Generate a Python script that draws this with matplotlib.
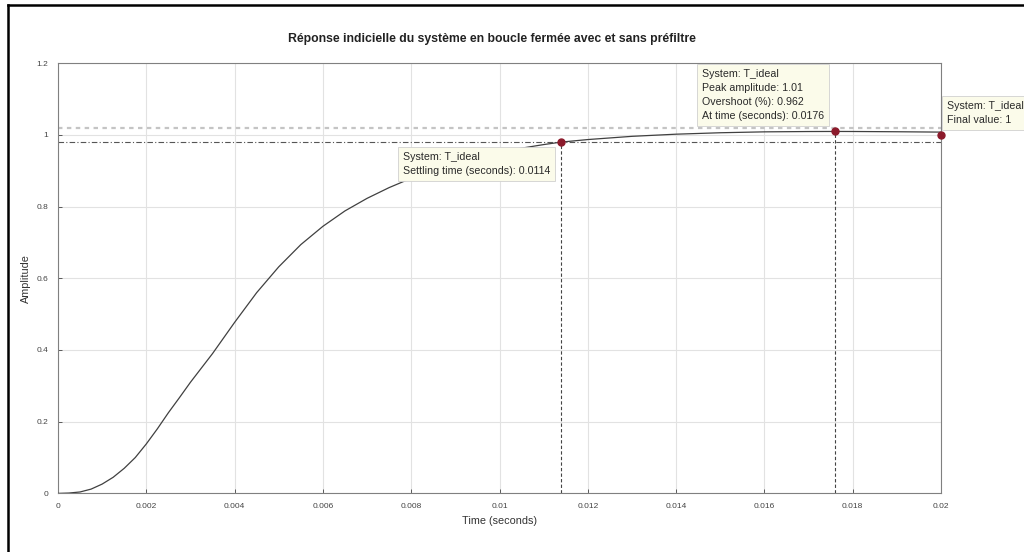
import numpy as np
import matplotlib
matplotlib.use('Agg')
import matplotlib.pyplot as plt
from matplotlib.lines import Line2D

plt.rcParams['font.family'] = ['Liberation Sans', 'DejaVu Sans']

# Step response
t_s = [0, 0.00025, 0.0005, 0.00075, 0.001, 0.00125, 0.0015, 0.00175, 0.002, 0.00225,
       0.0025, 0.00275, 0.003, 0.0035, 0.004, 0.0045, 0.005, 0.0055, 0.006, 0.0065,
       0.007, 0.0075, 0.008, 0.0085, 0.009, 0.0095, 0.01, 0.0105, 0.011, 0.0114,
       0.012, 0.013, 0.014, 0.015, 0.016, 0.017, 0.0176, 0.018, 0.019, 0.02]
amplitude = [0, 0.001, 0.004, 0.012, 0.026, 0.045, 0.07, 0.1, 0.138, 0.18,
             0.225, 0.267, 0.31, 0.39, 0.477, 0.56, 0.632, 0.694, 0.745, 0.788,
             0.823, 0.853, 0.879, 0.902, 0.922, 0.938, 0.952, 0.963, 0.973, 0.98,
             0.987, 0.996, 1.002, 1.006, 1.0085, 1.0094, 1.0096, 1.0095, 1.0088, 1.0078]

settle_band = [0.98, 1.02]
settling_time = 0.0114
peak_time = 0.0176
peak_amp = 1.0096
final_time = 0.02
final_value = 1.0

x_ticks = [0, 0.002, 0.004, 0.006, 0.008, 0.01, 0.012, 0.014, 0.016, 0.018, 0.02]
x_labels = ['0', '0.002', '0.004', '0.006', '0.008', '0.01', '0.012', '0.014', '0.016', '0.018', '0.02']
y_ticks = [0, 0.2, 0.4, 0.6, 0.8, 1.0, 1.2]
y_labels = ['0', '0.2', '0.4', '0.6', '0.8', '1', '1.2']

tip_settle = 'System: T_ideal\nSettling time (seconds): 0.0114'
tip_peak = 'System: T_ideal\nPeak amplitude: 1.01\nOvershoot (%): 0.962\nAt time (seconds): 0.0176'
tip_final = 'System: T_ideal\nFinal value: 1'

fig = plt.figure(figsize=(10.24, 5.52), dpi=100)
ax = fig.add_axes([58/1024, 1 - 493.4/552, (941-58)/1024, (493.4-63.2)/552])

ax.grid(True, color='#e2e2e2', linewidth=0.8)
ax.set_axisbelow(True)

# settling band
ax.axhline(settle_band[0], color='#555555', linestyle=(0, (5, 2, 1, 2)), linewidth=0.8, zorder=2)
ax.axhline(settle_band[1], color='#c4c4c4', linestyle=(0, (2, 2)), linewidth=1.6, zorder=2)

ax.plot(t_s, amplitude, color='#404040', linewidth=0.9, zorder=3)

# characteristic markers + drop lines
ax.plot([settling_time, settling_time], [0, settle_band[0]], color='#444444',
        linestyle=(0, (3, 2)), linewidth=0.8, zorder=2)
ax.plot([peak_time, peak_time], [0, peak_amp], color='#444444',
        linestyle=(0, (3, 2)), linewidth=0.8, zorder=2)
ax.plot([settling_time, peak_time, final_time], [settle_band[0], peak_amp, final_value],
        'o', color='#8c1a2b', markersize=5, zorder=6, clip_on=False)

box = dict(boxstyle='square,pad=0.45', facecolor='#fbfbea', edgecolor='#d0d0d0', linewidth=0.6)
tip_kw = dict(fontsize=7.7, va='top', ha='left', linespacing=1.5, bbox=box,
              zorder=5, color='#2a2a2a', clip_on=False)
ax.text(0.00781, 0.952, tip_settle, **tip_kw)
ax.text(0.01459, 1.184, tip_peak, **tip_kw)
ax.text(0.02014, 1.095, tip_final, **tip_kw)

ax.set_xlim(0, 0.02)
ax.set_ylim(0, 1.2)
ax.set_xticks(x_ticks)
ax.set_xticklabels(x_labels)
ax.set_yticks(y_ticks)
ax.set_yticklabels(y_labels)
ax.tick_params(direction='in', length=3, width=0.6, labelsize=6, colors='#444444',
               top=False, right=False, pad=7)
for s in ax.spines.values():
    s.set_color('#808080')
    s.set_linewidth(0.8)

ax.set_xlabel('Time (seconds)', fontsize=7.8, color='#333333', labelpad=4)
ax.set_ylabel('Amplitude', fontsize=7.8, color='#333333', labelpad=4)
ax.set_title('Réponse indicielle du système en boucle fermée avec et sans préfiltre',
             fontsize=8.8, fontweight='bold', color='#222222', pad=15, x=0.4915)

# screenshot border
fig.add_artist(Line2D([8/1024, 8/1024], [0, 1 - 5/552], color='black', linewidth=1.8,
                      transform=fig.transFigure))
fig.add_artist(Line2D([8/1024, 1], [1 - 5/552, 1 - 5/552], color='black', linewidth=1.8,
                      transform=fig.transFigure))

fig.savefig('out.png', dpi=100, facecolor='white')
